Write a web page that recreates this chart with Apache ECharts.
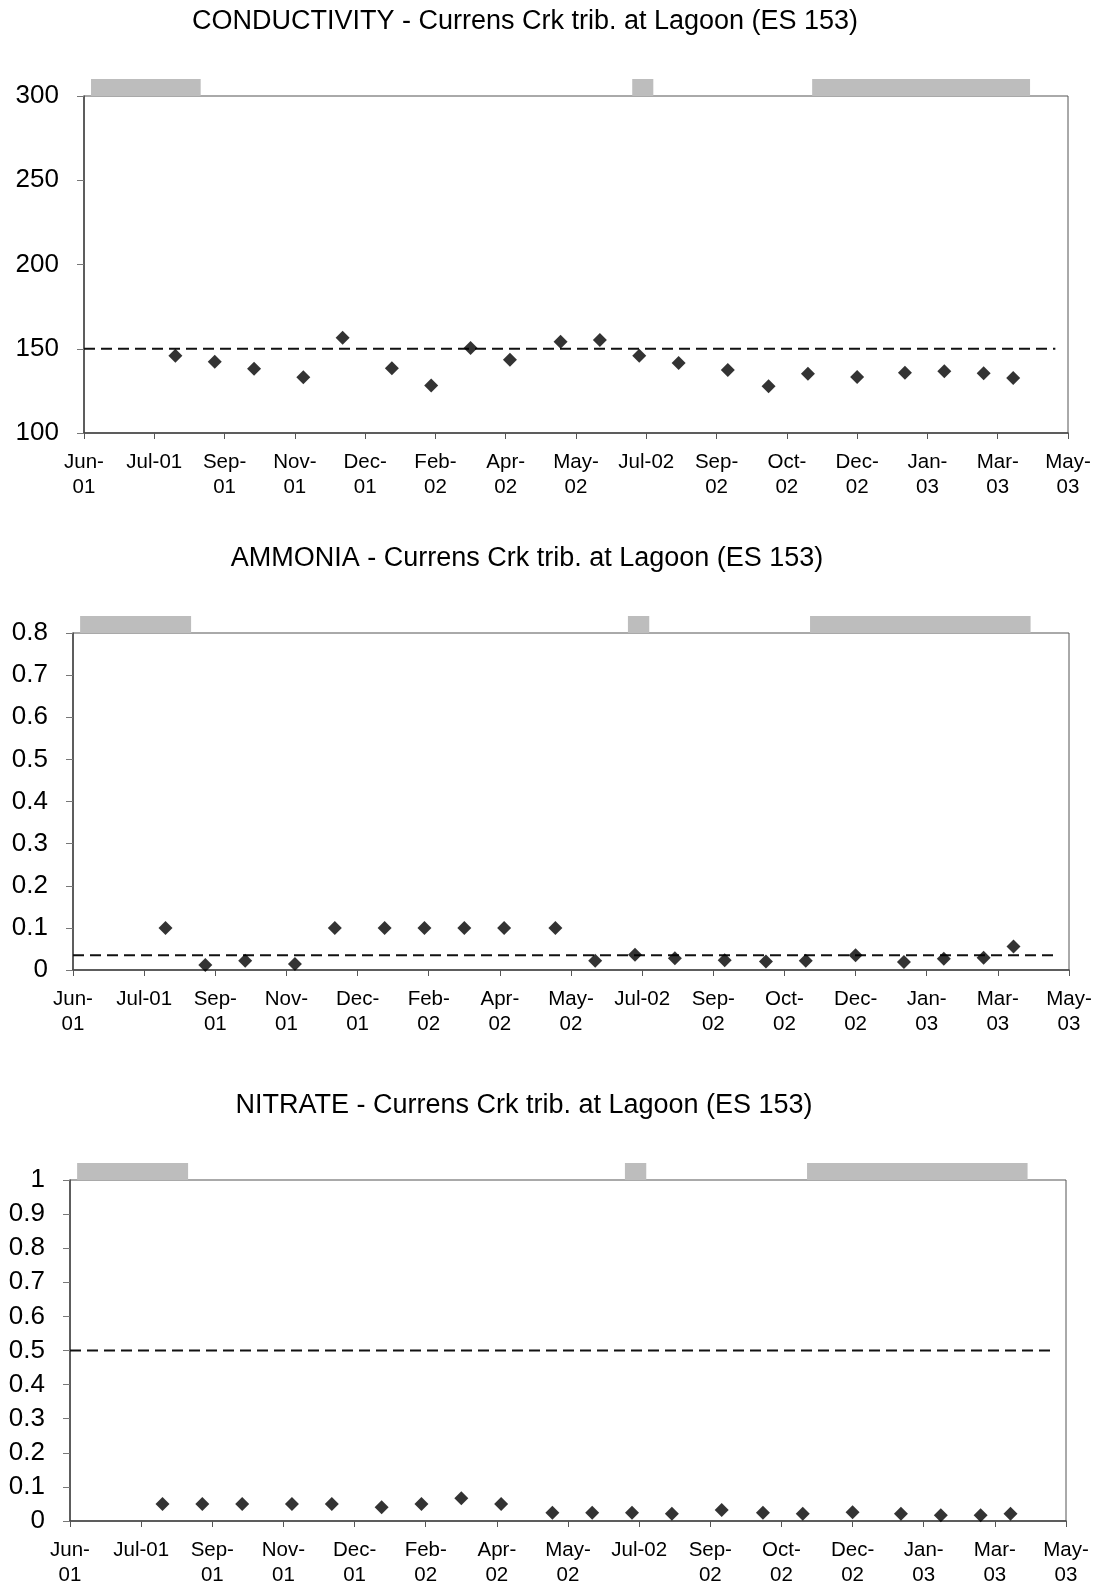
<!DOCTYPE html>
<html>
<head>
<meta charset="utf-8">
<script src="https://cdn.jsdelivr.net/npm/echarts@6/dist/echarts.min.js"></script>
<style>
  html, body { margin: 0; padding: 0; background: #fff; }
  #chart { width: 1100px; height: 1585px; }
</style>
</head>
<body>
<div id="chart"></div>
<script>
// sampling dates shared by the three panels
var sampleDates = ['2001-08-13', '2001-09-10', '2001-10-08', '2001-11-12', '2001-12-10',
    '2002-01-14', '2002-02-11', '2002-03-11', '2002-04-08', '2002-05-14', '2002-06-11',
    '2002-07-09', '2002-08-06', '2002-09-10', '2002-10-09', '2002-11-06', '2002-12-11',
    '2003-01-14', '2003-02-11', '2003-03-11', '2003-04-01'];

var conductivity = [145.8, 142.3, 138.1, 133.1, 156.5, 138.5, 128.2, 150.4, 143.5, 154.2,
    155.2, 145.8, 141.6, 137.4, 127.8, 135.1, 133.3, 135.8, 136.6, 135.4, 132.6];
var ammonia = [0.1, 0.012, 0.022, 0.014, 0.1, 0.1, 0.1, 0.1, 0.1, 0.1,
    0.022, 0.036, 0.028, 0.023, 0.02, 0.022, 0.035, 0.019, 0.027, 0.029, 0.056];
var nitrate = [0.05, 0.05, 0.05, 0.05, 0.05, 0.04, 0.05, 0.067, 0.05, 0.024,
    0.024, 0.024, 0.021, 0.032, 0.024, 0.021, 0.026, 0.021, 0.017, 0.017, 0.021];

// guideline values (dashed)
var guideValues = [150, 0.035, 0.5];
var guideDates = ['2001-06-09', '2003-05-01'];

// grey periods drawn above the plot
var periods = [['2001-06-14', '2001-08-31'], ['2002-07-04', '2002-07-19'], ['2002-11-09', '2003-04-13']];

var titles = ['CONDUCTIVITY - Currens Crk trib. at Lagoon (ES 153)',
    'AMMONIA - Currens Crk trib. at Lagoon (ES 153)',
    'NITRATE - Currens Crk trib. at Lagoon (ES 153)'];

var xTickLabels = ['Jun-\n01', 'Jul-01', 'Sep-\n01', 'Nov-\n01', 'Dec-\n01', 'Feb-\n02', 'Apr-\n02',
    'May-\n02', 'Jul-02', 'Sep-\n02', 'Oct-\n02', 'Dec-\n02', 'Jan-\n03', 'Mar-\n03', 'May-\n03'];

var axisStart = '2001-06-09';
var axisDays = 700;
var tickDays = 50;

var yRanges = [
    { min: 100, max: 300, interval: 50 },
    { min: 0, max: 0.8, interval: 0.1 },
    { min: 0, max: 1, interval: 0.1 }
];

function dayOf(s) {
    return (Date.parse(s) - Date.parse(axisStart)) / 86400000;
}

var font = "'Liberation Sans', Arial, sans-serif";
var grids = [
    { left: 84, right: 32, top: 96, height: 337 },
    { left: 73, right: 31, top: 633, height: 337 },
    { left: 70, right: 34, top: 1180, height: 341 }
];
var titlePos = [{ x: 525, y: 8 }, { x: 527, y: 545 }, { x: 524, y: 1092 }];

var option = {
    backgroundColor: '#fff',
    animation: false,
    title: [],
    grid: [],
    xAxis: [],
    yAxis: [],
    series: []
};

var values = [conductivity, ammonia, nitrate];

for (var i = 0; i < 3; i++) {
    option.title.push({
        text: titles[i],
        left: titlePos[i].x,
        top: titlePos[i].y,
        textAlign: 'center',
        padding: 0,
        textStyle: { fontFamily: font, fontSize: 27, fontWeight: 'normal', color: '#000' }
    });
    option.grid.push({
        left: grids[i].left,
        right: grids[i].right,
        top: grids[i].top,
        height: grids[i].height,
        outerBoundsMode: 'none',
        show: true,
        borderColor: '#555',
        borderWidth: 1,
        backgroundColor: 'transparent'
    });
    option.xAxis.push({
        type: 'value',
        gridIndex: i,
        min: 0,
        max: axisDays,
        interval: tickDays,
        axisLine: { show: true, lineStyle: { color: '#444', width: 1.5 } },
        axisTick: { show: true, length: 6, lineStyle: { color: '#555' } },
        splitLine: { show: false },
        axisLabel: {
            margin: 17,
            fontFamily: font,
            fontSize: 20.5,
            lineHeight: 25,
            color: '#000',
            showMinLabel: true,
            showMaxLabel: true,
            formatter: function (v) {
                return xTickLabels[Math.round(v / tickDays)] || '';
            }
        }
    });
    option.yAxis.push({
        type: 'value',
        gridIndex: i,
        min: yRanges[i].min,
        max: yRanges[i].max,
        interval: yRanges[i].interval,
        axisLine: { show: true, lineStyle: { color: '#444', width: 1.5 } },
        axisTick: { show: true, length: 7, lineStyle: { color: '#777' } },
        splitLine: { show: false },
        axisLabel: {
            margin: 25,
            fontFamily: font,
            fontSize: 26,
            color: '#000',
            showMinLabel: true,
            showMaxLabel: true
        }
    });

    // grey periods above the plot area
    (function (yMax) {
        option.series.push({
            type: 'custom',
            xAxisIndex: i,
            yAxisIndex: i,
            clip: false,
            silent: true,
            z: 1,
            data: periods.map(function (p) { return [dayOf(p[0]), dayOf(p[1])]; }),
            encode: { x: [0, 1] },
            renderItem: function (params, api) {
                var s = api.coord([api.value(0), yMax]);
                var e = api.coord([api.value(1), yMax]);
                return {
                    type: 'rect',
                    shape: { x: s[0], y: s[1] - 17, width: e[0] - s[0], height: 17 },
                    style: { fill: '#bdbdbd' }
                };
            }
        });
    })(yRanges[i].max);

    // dashed guideline
    option.series.push({
        type: 'line',
        xAxisIndex: i,
        yAxisIndex: i,
        symbol: 'none',
        silent: true,
        data: guideDates.map(function (d) { return [dayOf(d), guideValues[i]]; }),
        lineStyle: { color: '#111', width: 1.8, type: [11, 6] },
        z: 2
    });

    // sample points
    option.series.push({
        type: 'scatter',
        xAxisIndex: i,
        yAxisIndex: i,
        symbol: 'diamond',
        symbolSize: 14,
        itemStyle: { color: '#000' },
        data: sampleDates.map(function (d, k) { return [dayOf(d), values[i][k]]; }),
        z: 3
    });
}

var chart = echarts.init(document.getElementById('chart'), null, { renderer: 'canvas' });
chart.setOption(option);
</script>
</body>
</html>
